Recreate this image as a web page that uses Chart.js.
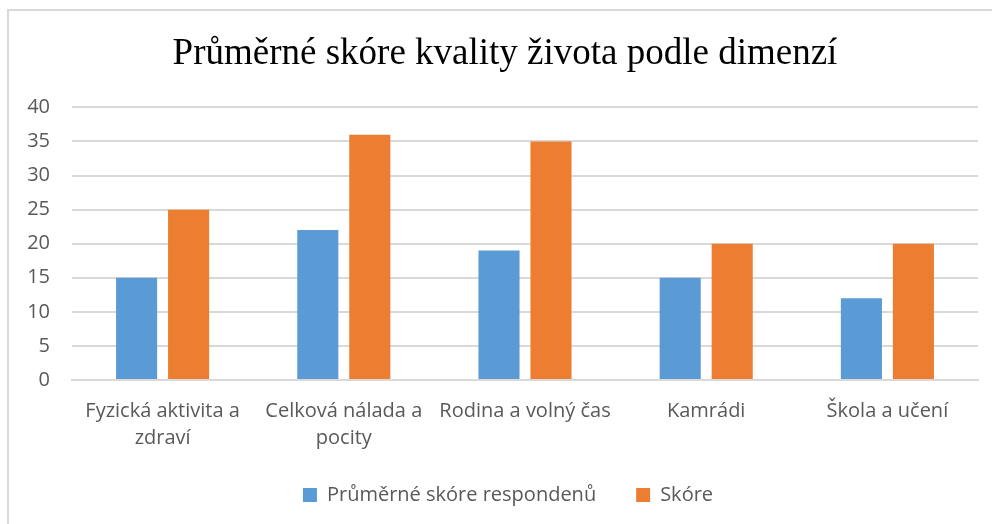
<!DOCTYPE html>
<html>
<head>
<meta charset="utf-8">
<script src="https://cdn.jsdelivr.net/npm/chart.js@4"></script>
<style>
  html, body { margin: 0; padding: 0; background: #fff; overflow: hidden; }
  #wrap { position: relative; width: 992px; height: 524px; overflow: hidden; }
  #frame { position: absolute; left: 7px; top: 9px; width: 1100px; height: 700px; border: 2px solid #d9d9d9; box-sizing: border-box; }
  canvas { position: absolute; left: 0; top: 0; }
</style>
</head>
<body>
<div id="wrap">
  <div id="frame"></div>
  <canvas id="c" width="992" height="524"></canvas>
</div>
<script>
const categories = [
  ['Fyzická aktivita a', 'zdraví'],
  ['Celková nálada a', 'pocity'],
  'Rodina a volný čas',
  'Kamrádi',
  'Škola a učení'
];
const respondentScores = [15, 22, 19, 15, 12];
const scores = [25, 36, 35, 20, 20];
const seriesNames = ['Průměrné skóre respondenů', 'Skóre'];
const titleText = 'Průměrné skóre kvality života podle dimenzí';

const font = '"Open Sans", Calibri, Carlito, sans-serif';

const boxShift = {
  id: 'boxShift',
  afterLayout(chart) {
    const t = chart.titleBlock;
    if (t) { t.left += 5; t.right += 5; }
    const lg = chart.legend;
    if (lg) { lg.top -= 17; lg.bottom -= 17; lg.left += 8; lg.right += 8; }
  }
};

new Chart(document.getElementById('c'), {
  type: 'bar',
  data: {
    labels: categories,
    datasets: [
      { label: seriesNames[0], data: respondentScores, backgroundColor: '#5B9BD5', borderWidth: 0 },
      { label: seriesNames[1], data: scores, backgroundColor: '#ED7D31', borderWidth: 0 }
    ]
  },
  plugins: [boxShift],
  options: {
    responsive: false,
    animation: false,
    categoryPercentage: 0.574,
    barPercentage: 0.79,
    layout: { padding: { top: 20, left: 22, right: 14, bottom: -8 } },
    plugins: {
      title: {
        display: true,
        text: titleText,
        color: '#000',
        font: { family: '"Liberation Serif", "Times New Roman", serif', size: 37, weight: 'normal' },
        padding: { top: 12, bottom: 31 }
      },
      legend: {
        position: 'bottom',
        labels: {
          color: '#595959',
          font: { family: font, size: 20 },
          boxWidth: 14,
          boxHeight: 14,
          padding: 40
        }
      },
      tooltip: { enabled: false }
    },
    scales: {
      x: {
        grid: { display: false },
        border: { display: true, color: '#d9d9d9', width: 2 },
        ticks: { color: '#595959', font: { family: font, size: 20, lineHeight: 1.35 }, padding: 10, maxRotation: 0, autoSkip: false }
      },
      y: {
        min: 0, max: 40,
        afterFit: (s) => { s.width = 50; },
        grid: { color: '#d9d9d9', lineWidth: 2, drawTicks: false },
        border: { display: false },
        ticks: { stepSize: 5, color: '#595959', font: { family: font, size: 20 }, padding: 22 }
      }
    }
  }
});
</script>
</body>
</html>
